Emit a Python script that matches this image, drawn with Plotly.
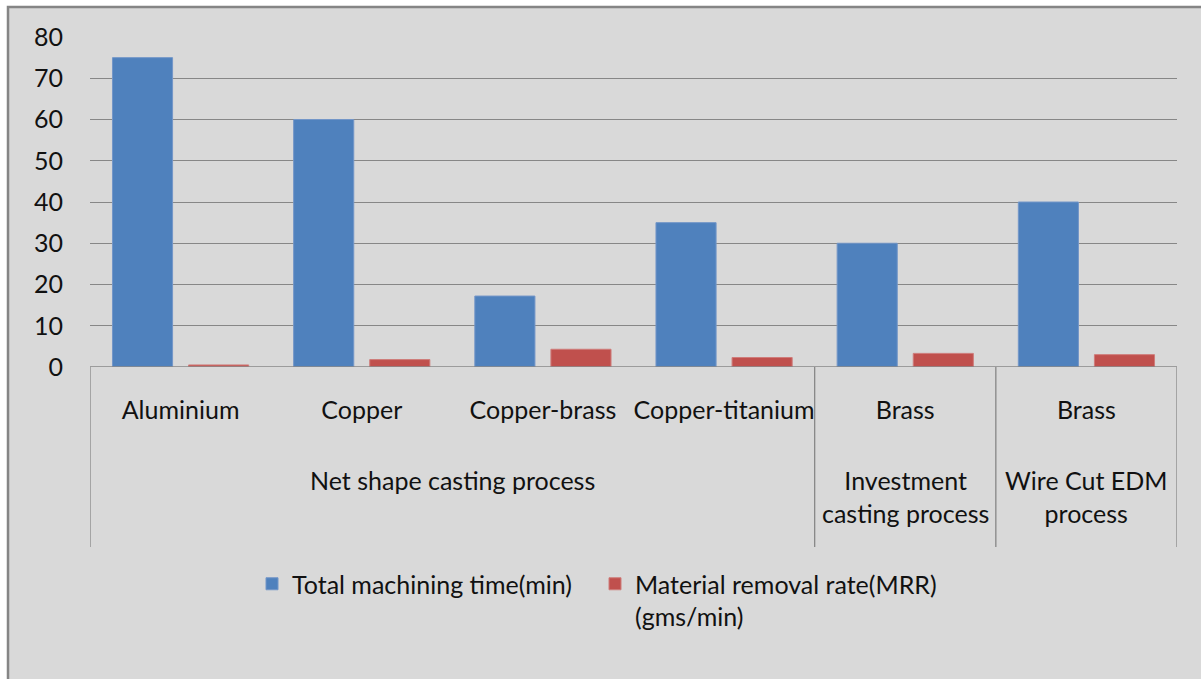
import plotly.graph_objects as go

# Bar chart data
materials = ["Aluminium", "Copper", "Copper-brass", "Copper-titanium", "Brass", "Brass"]
machining_time = [75, 60, 17.2, 35, 30, 40]
mrr = [0.5, 1.8, 4.3, 2.3, 3.3, 3.0]
y_ticks = [0, 10, 20, 30, 40, 50, 60, 70, 80]

# Process groups: label, first index, last index
groups = [
    ("Net shape casting process", 0, 3),
    ("Investment<br>casting process", 4, 4),
    ("Wire Cut EDM<br>process", 5, 5),
]

W, H = 1201, 679
L, R, T, B = 90, 1201 - 1177, 37, 679 - 367
PW, PH = W - L - R, H - T - B


def px_x(px):
    return (px - L) / PW


def px_y(py):
    return (H - B - py) / PH


FONT = "Lato"
FS = 25
TXT = "#111111"
GRID = "#878787"
BG = "#d9d9d9"

idx = list(range(len(materials)))

fig = go.Figure()
fig.add_trace(go.Bar(
    x=idx, y=machining_time, name="Total machining time(min)",
    marker=dict(color="#4f81bd", line=dict(color="#7396c8", width=1)),
))
fig.add_trace(go.Bar(
    x=idx, y=mrr, name="Material removal rate(MRR)<br>(gms/min)",
    marker=dict(color="#c0504d", line=dict(color="#cf7c7a", width=1)),
))

shapes = [
    # chart frame
    dict(type="rect", xref="paper", yref="paper", layer="below",
         x0=px_x(8), x1=px_x(1220), y0=px_y(700), y1=px_y(7),
         fillcolor=BG, line=dict(color="#858585", width=2.5)),
    # category axis line
    dict(type="line", xref="paper", yref="y", x0=0, x1=1, y0=0, y1=0,
         line=dict(color=GRID, width=1.3)),
]
# group dividers
edges = [-0.5] + [g[2] + 0.5 for g in groups]
for e in edges:
    shapes.append(dict(type="line", xref="x", yref="paper",
                       x0=e, x1=e, y0=px_y(547), y1=0,
                       line=dict(color=GRID, width=1.3)))

annotations = []
for label, a, b in groups:
    annotations.append(dict(
        x=(a + b) / 2, y=px_y(463), xref="x", yref="paper",
        text=label, showarrow=False, yanchor="top", xanchor="center",
        font=dict(family=FONT, size=FS, color=TXT),
    ))

fig.update_layout(
    width=W, height=H,
    margin=dict(l=L, r=R, t=T, b=B, pad=0),
    paper_bgcolor="white", plot_bgcolor=BG,
    barmode="group", bargap=0.16, bargroupgap=0.21,
    font=dict(family=FONT, size=FS, color=TXT),
    xaxis=dict(
        range=[-0.5, len(materials) - 0.5],
        tickvals=idx, ticktext=materials,
        showgrid=False, zeroline=False, showline=False,
        ticks="", ticklabelstandoff=26,
        tickfont=dict(family=FONT, size=FS, color=TXT),
    ),
    yaxis=dict(
        range=[0, 80], tickvals=y_ticks,
        showgrid=True, gridcolor=GRID, gridwidth=1.3,
        zeroline=False, showline=False, ticks="",
        ticklabelstandoff=26,
        tickfont=dict(family=FONT, size=FS, color=TXT),
    ),
    legend=dict(
        orientation="h", x=px_x(252), y=px_y(561),
        xanchor="left", yanchor="top", valign="top",
        bgcolor="rgba(0,0,0,0)", font=dict(family=FONT, size=FS, color=TXT),
        itemwidth=30, traceorder="normal", entrywidth=298,
    ),
    shapes=shapes, annotations=annotations,
    showlegend=True,
)

fig.write_html("out.html")
